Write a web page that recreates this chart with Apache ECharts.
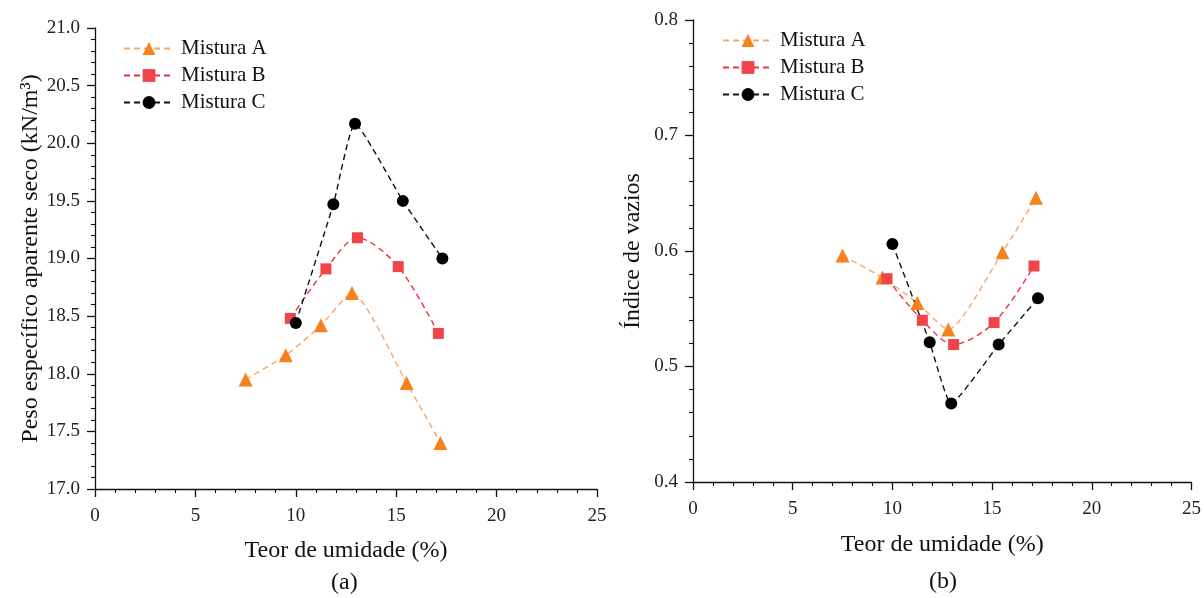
<!DOCTYPE html>
<html>
<head>
<meta charset="utf-8">
<script src="https://cdn.jsdelivr.net/npm/echarts@6/dist/echarts.min.js"></script>
<style>
  html, body { margin: 0; padding: 0; background: #ffffff; }
  #chart { width: 1204px; height: 598px; }
</style>
</head>
<body>
<div id="chart"></div>
<script>
// Moisture content (%) for each mixture
const umidadeA = [7.5, 9.5, 11.25, 12.8, 15.52, 17.2];
const umidadeB = [9.73, 11.5, 13.07, 15.1, 17.1];
const umidadeC = [10.0, 11.87, 12.95, 15.33, 17.3];

// (a) Dry unit weight (kN/m³)
const pesoA = [17.95, 18.16, 18.42, 18.70, 17.92, 17.40];
const pesoB = [18.48, 18.91, 19.18, 18.93, 18.35];
const pesoC = [18.44, 19.47, 20.17, 19.50, 19.00];

// (b) Void ratio
const vaziosA = [0.596, 0.577, 0.555, 0.532, 0.599, 0.646];
const vaziosB = [0.576, 0.540, 0.519, 0.538, 0.587];
const vaziosC = [0.606, 0.521, 0.468, 0.519, 0.559];

const nomes = ['Mistura A', 'Mistura B', 'Mistura C'];
const FONT = '"Liberation Serif", "Times New Roman", serif';

const estilos = {
  'Mistura A': { line: '#F9A566', mark: '#F5821F', symbol: 'triangle', size: 14, smooth: 0.2 },
  'Mistura B': { line: '#E8303A', mark: '#F0444A', symbol: 'rect', size: 11, smooth: 0.3 },
  'Mistura C': { line: '#111111', mark: '#000000', symbol: 'circle', size: 12, smooth: 0.15 }
};

function pares(xs, ys) { return xs.map((x, i) => [x, ys[i]]); }

function serie(nome, xIdx, xs, ys) {
  const e = estilos[nome];
  return {
    name: nome, type: 'line', xAxisIndex: xIdx, yAxisIndex: xIdx,
    data: pares(xs, ys), smooth: e.smooth,
    symbol: e.symbol, symbolSize: e.size,
    lineStyle: { color: e.line, width: 1.4, type: [6, 4] },
    itemStyle: { color: e.mark },
    z: 3
  };
}

function eixoX(gridIdx, gap) {
  return {
    type: 'value', gridIndex: gridIdx, min: 0, max: 25, interval: 5,
    name: 'Teor de umidade (%)', nameLocation: 'middle', nameGap: gap,
    nameTextStyle: { fontFamily: FONT, fontSize: 24, color: '#111' },
    axisLine: { show: true, lineStyle: { color: '#111', width: 1.3 } },
    axisTick: { show: true, inside: false, length: 8, lineStyle: { color: '#111', width: 1.3 } },
    minorTick: { show: true, splitNumber: 5, length: 4, lineStyle: { color: '#111', width: 1.1 } },
    axisLabel: { fontFamily: FONT, fontSize: 19, color: '#222', margin: 18 },
    splitLine: { show: false }
  };
}

function eixoY(gridIdx, min, max, interval, nome, gap) {
  return {
    type: 'value', gridIndex: gridIdx, min: min, max: max, interval: interval,
    name: nome, nameLocation: 'middle', nameGap: gap, nameRotate: 90,
    nameTextStyle: { fontFamily: FONT, fontSize: 24, color: '#111' },
    axisLine: { show: true, lineStyle: { color: '#111', width: 1.3 } },
    axisTick: { show: true, inside: false, length: 8, lineStyle: { color: '#111', width: 1.3 } },
    minorTick: { show: true, splitNumber: 5, length: 4, lineStyle: { color: '#111', width: 1.1 } },
    axisLabel: { fontFamily: FONT, fontSize: 19, color: '#222', margin: 15, formatter: v => v.toFixed(1) },
    splitLine: { show: false }
  };
}

const legenda = (left, top) => ({
  left: left, top: top, orient: 'vertical', itemGap: 6,
  itemWidth: 50, itemHeight: 16,
  textStyle: { fontFamily: FONT, fontSize: 21, color: '#111', padding: [0, 0, 0, 2] },
  data: nomes, selectedMode: false
});

const chart = echarts.init(document.getElementById('chart'), null, { renderer: 'canvas' });
chart.setOption({
  backgroundColor: '#ffffff',
  animation: false,
  grid: [
    { left: 95, right: 607, top: 28, bottom: 109 },
    { left: 693, right: 4, top: 20, bottom: 116 }
  ],
  xAxis: [eixoX(0, 50), eixoX(1, 51)],
  yAxis: [
    eixoY(0, 17, 21, 0.5, 'Peso específico aparente seco (kN/m³)', 51),
    eixoY(1, 0.4, 0.8, 0.1, 'Índice de vazios', 48)
  ],
  legend: [legenda(118, 33), legenda(717, 25)],
  graphic: [
    { type: 'text', left: 331, top: 571, style: { text: '(a)', font: '24px ' + FONT, fill: '#111' } },
    { type: 'text', left: 929, top: 570, style: { text: '(b)', font: '24px ' + FONT, fill: '#111' } }
  ],
  series: [
    serie('Mistura A', 0, umidadeA, pesoA),
    serie('Mistura B', 0, umidadeB, pesoB),
    serie('Mistura C', 0, umidadeC, pesoC),
    serie('Mistura A', 1, umidadeA, vaziosA),
    serie('Mistura B', 1, umidadeB, vaziosB),
    serie('Mistura C', 1, umidadeC, vaziosC)
  ]
});
</script>
</body>
</html>
